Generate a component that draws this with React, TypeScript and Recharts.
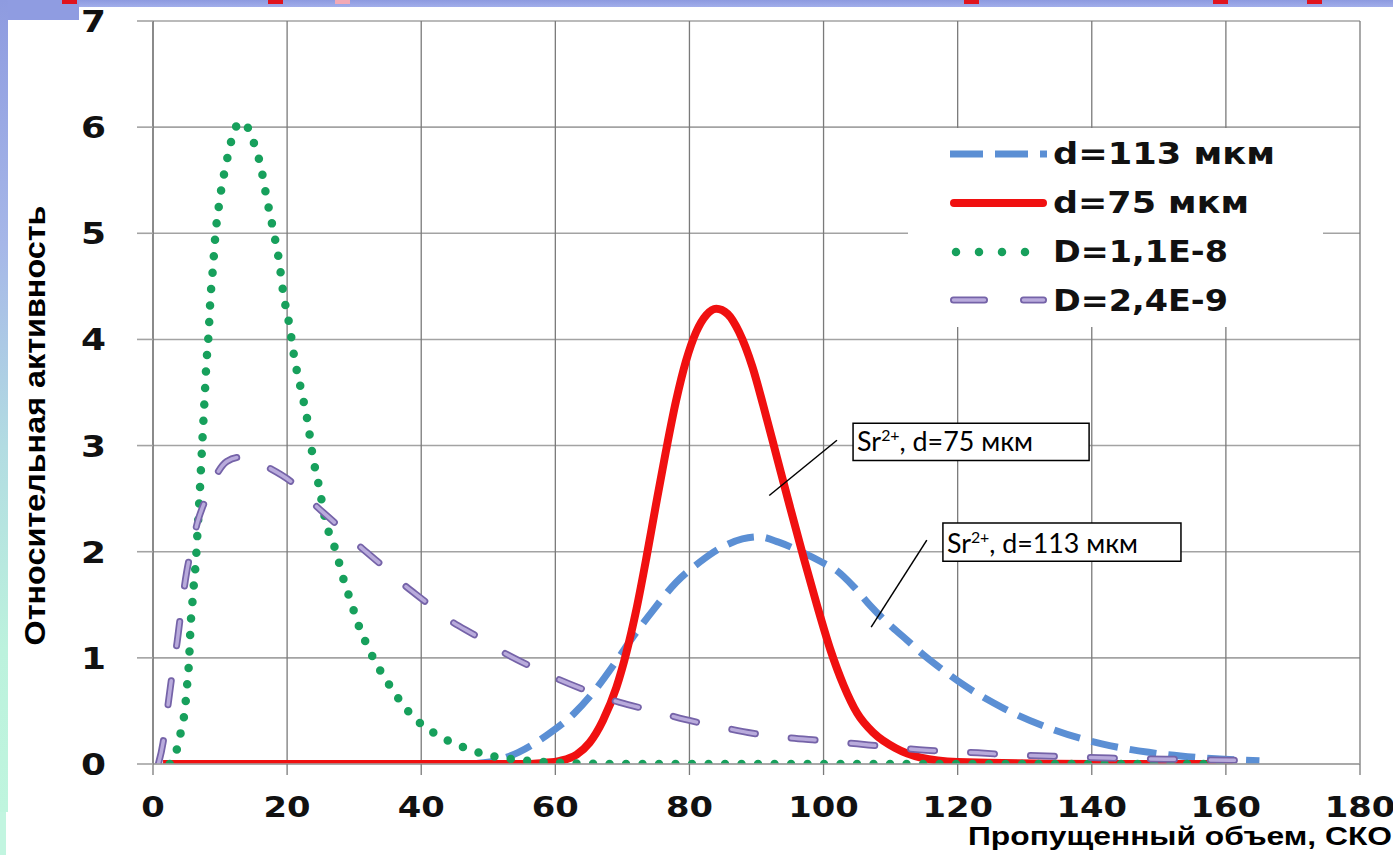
import React from 'react';
import {
  LineChart,
  Line,
  XAxis,
  YAxis,
  CartesianGrid,
  Legend,
  ReferenceArea,
  ReferenceLine,
} from 'recharts';

// ---------- data ----------
const xTicks = [0, 20, 40, 60, 80, 100, 120, 140, 160, 180];
const yTicks = [0, 1, 2, 3, 4, 5, 6, 7];

const seriesNames = ['d=113 мкм', 'd=75 мкм', 'D=1,1E-8', 'D=2,4E-9'];

const xTitle = 'Пропущенный объем, СКО';
const yTitle = 'Относительная  активность';

const noteTexts = [', d=75 мкм', ', d=113 мкм'];
const noteIon = 'Sr';
const noteCharge = '2+';

// d=113 мкм (blue dashed)
const blueX = [47, 51, 54.5, 58.7, 62.7, 66.1, 69.1, 71.6, 74.6, 78, 81.5, 84.5, 87.9, 90.4, 93.3, 96.3, 99.5, 102, 104.5, 107, 109.5, 112.4, 114.5, 117.5, 121, 127, 134, 141.5, 148.5, 156, 165];
const blueY = [0, 0.03, 0.11, 0.27, 0.47, 0.71, 0.97, 1.2, 1.45, 1.71, 1.9, 2.03, 2.12, 2.14, 2.09, 2.01, 1.91, 1.82, 1.67, 1.49, 1.33, 1.17, 1.05, 0.9, 0.74, 0.52, 0.33, 0.19, 0.11, 0.06, 0.03];

// d=75 мкм (red solid)
const redX = [1.5, 20, 40, 56, 58.2, 60.7, 63.2, 65.1, 67.1, 69.1, 70.6, 72.1, 73.6, 75, 76.5, 78, 79.5, 81, 82.5, 84, 85.7, 87.4, 89.4, 91, 93, 95, 97, 99, 101, 103, 105, 107.5, 110.7, 114.5, 120, 140, 161];
const redY = [0, 0, 0, 0, 0.01, 0.03, 0.09, 0.2, 0.41, 0.72, 1.05, 1.46, 1.95, 2.44, 2.95, 3.42, 3.8, 4.07, 4.23, 4.29, 4.24, 4.07, 3.74, 3.38, 2.9, 2.42, 1.95, 1.5, 1.08, 0.74, 0.48, 0.29, 0.15, 0.06, 0.02, 0, 0];

// D=1,1E-8 (green dotted)
const greenX = [2.5, 3.3, 3.9, 4.4, 4.8, 5.0, 5.25, 5.4, 5.6, 5.85, 6.1, 6.4, 6.65, 6.95, 7.2, 7.45, 7.7, 7.95, 8.3, 8.55, 8.95, 9.3, 9.85, 10.3, 10.8, 11.3, 11.9, 13.0, 14.3, 15.2, 16.0, 16.9, 17.9, 18.8, 19.45, 20.35, 21.1, 22.1, 23.1, 23.8, 24.8, 25.7, 27.3, 28.6, 29.4, 31.0, 32.0, 33.15, 34.5, 35.9, 37.5, 39.2, 42.0, 44.7, 47.7, 51, 54.5, 58, 61, 70, 100, 130, 160];
const greenY = [0, 0.08, 0.23, 0.38, 0.53, 0.69, 0.85, 1.0, 1.3, 1.5, 1.7, 1.92, 2.2, 2.53, 2.84, 3.15, 3.45, 3.76, 4.06, 4.37, 4.68, 4.98, 5.27, 5.46, 5.62, 5.77, 5.92, 6.05, 5.98, 5.82, 5.65, 5.35, 5.04, 4.74, 4.43, 4.13, 3.82, 3.52, 3.21, 2.91, 2.6, 2.3, 2.0, 1.7, 1.55, 1.25, 1.11, 0.96, 0.82, 0.68, 0.54, 0.42, 0.29, 0.2, 0.126, 0.07, 0.04, 0.02, 0.01, 0, 0, 0, 0];

// D=2,4E-9 (purple long dash)
const purpleX = [0.8, 1.5, 2.0, 2.5, 3.0, 3.6, 4.2, 5.0, 5.8, 6.6, 7.9, 9.5, 11, 12.9, 15, 17.3, 21, 24, 27.5, 30.5, 34, 37, 40, 44.1, 48.1, 52, 56, 60.4, 64.7, 69.6, 74.6, 79.3, 84.5, 89.4, 94.4, 100, 105, 110, 115.3, 120.4, 125.6, 130.7, 135.8, 141, 146.4, 151, 156, 160.7, 165.6];
const purpleY = [0, 0.2, 0.44, 0.68, 0.91, 1.15, 1.45, 1.8, 2.05, 2.27, 2.5, 2.73, 2.85, 2.89, 2.86, 2.79, 2.64, 2.45, 2.25, 2.07, 1.88, 1.71, 1.56, 1.36, 1.21, 1.06, 0.93, 0.8, 0.69, 0.58, 0.5, 0.42, 0.35, 0.29, 0.25, 0.22, 0.19, 0.16, 0.13, 0.115, 0.095, 0.08, 0.07, 0.06, 0.05, 0.045, 0.04, 0.035, 0.03];

const toPoints = (xs: number[], ys: number[]) => xs.map((x, i) => ({ x, y: ys[i] }));
const blueData = toPoints(blueX, blueY);
const redData = toPoints(redX, redY);
const greenData = toPoints(greenX, greenY);
const purpleData = toPoints(purpleX, purpleY);

// annotation placement (data space)
const note1Box = { x1: 104.4, x2: 139.6, y1: 2.86, y2: 3.21 };
const note1Ptr = [{ x: 102.0, y: 3.05 }, { x: 91.9, y: 2.53 }];
const note2Box = { x1: 117.8, x2: 153.3, y1: 1.91, y2: 2.27 };
const note2Ptr = [{ x: 115.4, y: 2.11 }, { x: 107.1, y: 1.29 }];

// ---------- styles ----------
const BLUE = '#5b8fd4';
const RED = '#f01010';
const GREEN = '#17a05c';
const PURPLE_DARK = '#7563a8';
const PURPLE_LIGHT = '#b9abdc';
const V_GRID = '#7a7a7a';
const H_GRID = '#a3a3a3';
const TICK_FONT = '"DejaVu Sans", Verdana, sans-serif';
const TITLE_FONT = '"Liberation Sans", Arial, sans-serif';
const NOTE_FONT = 'Lato, "Open Sans", sans-serif';

const XTick = (props: any) => {
  const { x, y, payload } = props;
  const s = String(payload.value);
  return (
    <text
      x={x}
      y={y + 40}
      textAnchor="middle"
      fontFamily={TICK_FONT}
      fontWeight="bold"
      fontSize={28}
      fill="#111"
      textLength={s.length * 23.5}
      lengthAdjust="spacingAndGlyphs"
    >
      {s}
    </text>
  );
};

const YTick = (props: any) => {
  const { x, y, payload } = props;
  const s = String(payload.value);
  return (
    <text
      x={x - 29}
      y={y + 11}
      textAnchor="end"
      fontFamily={TICK_FONT}
      fontWeight="bold"
      fontSize={30}
      fill="#111"
      textLength={s.length * 25}
      lengthAdjust="spacingAndGlyphs"
    >
      {s}
    </text>
  );
};

const XTitle = (props: any) => {
  const vb = props.viewBox || { x: 153, y: 764, width: 1207, height: 91 };
  return (
    <text
      x={vb.x + vb.width + 32}
      y={vb.y + 81}
      textAnchor="end"
      fontFamily={TITLE_FONT}
      fontWeight="bold"
      fontSize={26}
      fill="#000"
      textLength={424}
      lengthAdjust="spacingAndGlyphs"
    >
      {xTitle}
    </text>
  );
};

const YTitle = (props: any) => {
  const vb = props.viewBox || { x: 0, y: 21, width: 153, height: 743 };
  const cx = vb.x + 45;
  const cy = vb.y + vb.height / 2 + 33;
  return (
    <text
      x={cx}
      y={cy}
      transform={`rotate(-90 ${cx} ${cy})`}
      textAnchor="middle"
      fontFamily={TITLE_FONT}
      fontWeight="bold"
      fontSize={30}
      fill="#000"
      textLength={440}
      lengthAdjust="spacingAndGlyphs"
    >
      {yTitle}
    </text>
  );
};

const makeNote = (rest: string, len: number, baseOff: number) => (props: any) => {
  const vb = props.viewBox;
  if (!vb) return null;
  return (
    <text
      x={vb.x + 4}
      y={vb.y + vb.height - baseOff}
      fontFamily={NOTE_FONT}
      fontSize={27}
      fill="#000"
      textLength={len}
      lengthAdjust="spacingAndGlyphs"
    >
      {noteIon}
      <tspan dy={-10} fontSize={16}>{noteCharge}</tspan>
      <tspan dy={10}>{rest}</tspan>
    </text>
  );
};

const LegendContent = () => {
  const lineY = [26, 75, 124, 172];
  const baseY = [36, 85, 134, 183];
  const textLen = [222, 196, 175, 175];
  return (
    <svg width={415} height={199} style={{ display: 'block' }}>
      <rect x={0} y={0} width={415} height={199} fill="#fff" />
      <line x1={42} x2={139} y1={lineY[0]} y2={lineY[0]} stroke={BLUE} strokeWidth={7} strokeDasharray="33 12" />
      <line x1={46} x2={135} y1={lineY[1]} y2={lineY[1]} stroke={RED} strokeWidth={8} strokeLinecap="round" />
      <line x1={48} x2={118} y1={lineY[2]} y2={lineY[2]} stroke={GREEN} strokeWidth={8.5} strokeLinecap="round" strokeDasharray="0 23" />
      <line x1={45.5} x2={135.5} y1={lineY[3]} y2={lineY[3]} stroke={PURPLE_DARK} strokeWidth={7} strokeLinecap="round" strokeDasharray="31 39" />
      <line x1={45.5} x2={135.5} y1={lineY[3]} y2={lineY[3]} stroke={PURPLE_LIGHT} strokeWidth={3.5} strokeLinecap="round" strokeDasharray="31 39" />
      {seriesNames.map((n, i) => (
        <text
          key={n}
          x={145}
          y={baseY[i]}
          fontFamily={TICK_FONT}
          fontWeight="bold"
          fontSize={30}
          fill="#111"
          textLength={textLen[i]}
          lengthAdjust="spacingAndGlyphs"
        >
          {n}
        </text>
      ))}
    </svg>
  );
};

const redMarks = [62, 268, 964, 1213, 1307];

export default function App() {
  return (
    <div
      style={{
        position: 'absolute',
        left: 0,
        top: 0,
        width: 1393,
        height: 855,
        background: '#fff',
        overflow: 'hidden',
      }}
    >
      <LineChart width={1393} height={855} margin={{ top: 21, right: 33, bottom: 0, left: 0 }}>
        <CartesianGrid horizontal={true} vertical={false} stroke={H_GRID} strokeWidth={1.6} />
        <CartesianGrid horizontal={false} vertical={true} stroke={V_GRID} strokeWidth={1.3} />
        <XAxis
          type="number"
          dataKey="x"
          domain={[0, 180]}
          ticks={xTicks}
          interval={0}
          allowDataOverflow
          height={91}
          tickSize={11}
          axisLine={{ stroke: H_GRID, strokeWidth: 1.6 }}
          tickLine={{ stroke: V_GRID, strokeWidth: 1.3 }}
          tick={XTick}
          label={{ content: XTitle }}
        />
        <YAxis
          type="number"
          domain={[0, 7]}
          ticks={yTicks}
          interval={0}
          allowDataOverflow
          width={153}
          tickSize={16}
          axisLine={{ stroke: V_GRID, strokeWidth: 1.3 }}
          tickLine={{ stroke: H_GRID, strokeWidth: 1.6 }}
          tick={YTick}
          label={{ content: YTitle }}
        />
        <ReferenceArea
          x1={note1Box.x1}
          x2={note1Box.x2}
          y1={note1Box.y1}
          y2={note1Box.y2}
          fill="#fff"
          fillOpacity={1}
          stroke="#000"
          strokeWidth={1.5}
          label={{ content: makeNote(noteTexts[0], 176, 9) }}
        />
        <ReferenceArea
          x1={note2Box.x1}
          x2={note2Box.x2}
          y1={note2Box.y1}
          y2={note2Box.y2}
          fill="#fff"
          fillOpacity={1}
          stroke="#000"
          strokeWidth={1.5}
          label={{ content: makeNote(noteTexts[1], 191, 8) }}
        />
        <Line data={blueData} dataKey="y" type="monotone" stroke={BLUE} strokeWidth={7} strokeDasharray="27 12" dot={false} activeDot={false} isAnimationActive={false} legendType="none" />
        <Line data={redData} dataKey="y" type="monotone" stroke={RED} strokeWidth={8} strokeLinejoin="round" dot={false} activeDot={false} isAnimationActive={false} legendType="none" />
        <Line data={greenData} dataKey="y" type="monotone" stroke={GREEN} strokeWidth={8.5} strokeLinecap="round" strokeDasharray="0 16.5" dot={false} activeDot={false} isAnimationActive={false} legendType="none" />
        <Line data={purpleData} dataKey="y" type="monotone" stroke={PURPLE_DARK} strokeWidth={7} strokeLinecap="round" strokeDasharray="24 36" dot={false} activeDot={false} isAnimationActive={false} legendType="none" />
        <Line data={purpleData} dataKey="y" type="monotone" stroke={PURPLE_LIGHT} strokeWidth={3.5} strokeLinecap="round" strokeDasharray="24 36" dot={false} activeDot={false} isAnimationActive={false} legendType="none" />
        <ReferenceLine segment={note1Ptr} stroke="#000" strokeWidth={1.5} ifOverflow="visible" />
        <ReferenceLine segment={note2Ptr} stroke="#000" strokeWidth={1.5} ifOverflow="visible" />
        <Legend
          layout="vertical"
          align="center"
          verticalAlign="middle"
          content={() => <LegendContent />}
          wrapperStyle={{ left: 908, top: 128, width: 415, height: 199, background: '#fff' }}
        />
      </LineChart>
      {/* slide decorations */}
      <div style={{ position: 'absolute', left: 0, top: 0, width: 1393, height: 7, background: 'linear-gradient(#8d9ae0, #a2aeea)' }} />
      <div style={{ position: 'absolute', left: 0, top: 0, width: 79, height: 20, background: '#8f9ce1' }} />
      <div
        style={{
          position: 'absolute',
          left: 0,
          top: 0,
          width: 8,
          height: 812,
          background: 'linear-gradient(#8e9be0 0%, #a6b7e8 30%, #b2dce2 55%, #bcf2dd 80%, #bff5de 100%)',
        }}
      />
      <div style={{ position: 'absolute', left: 0, top: 812, width: 6, height: 43, background: '#c2f5e0' }} />
      {redMarks.map((m) => (
        <div key={m} style={{ position: 'absolute', left: m, top: 0, width: 15, height: 4, background: '#e0141e' }} />
      ))}
      <div style={{ position: 'absolute', left: 335, top: 0, width: 15, height: 4, background: '#f2a9b6' }} />
    </div>
  );
}
